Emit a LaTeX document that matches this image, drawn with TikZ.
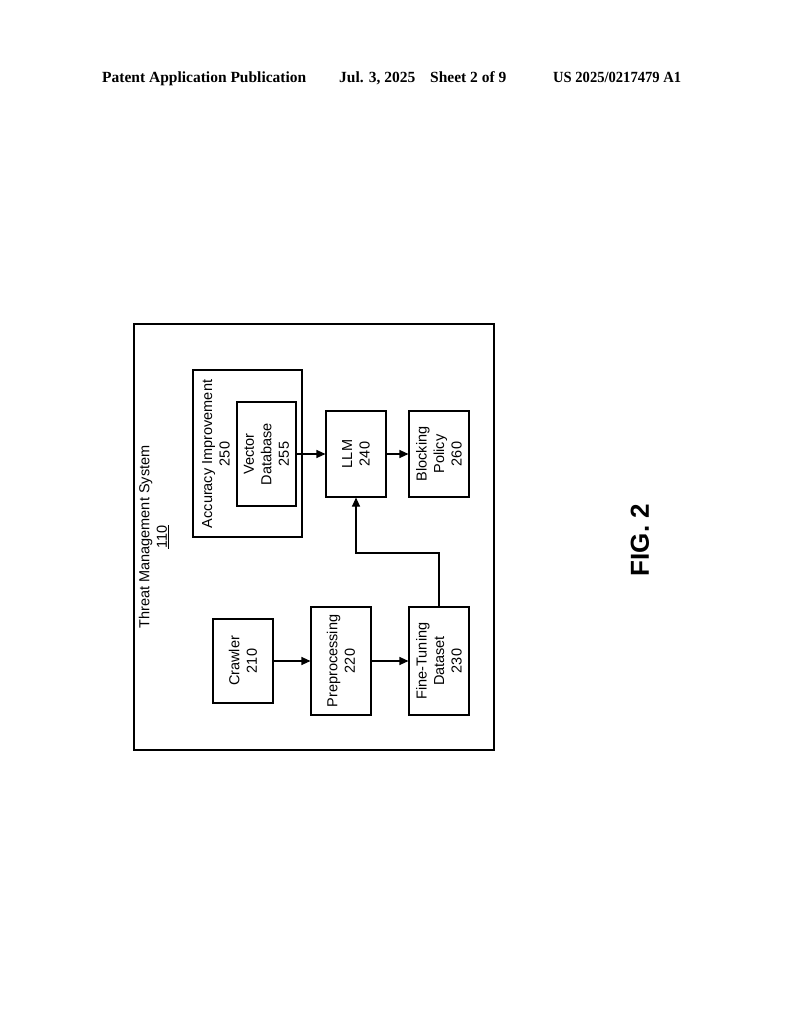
\documentclass[tikz,border=0pt]{standalone}
\usepackage{fontspec}
\setmainfont{Liberation Sans}
\newfontfamily\hdrfont{Liberation Serif}
\usetikzlibrary{arrows.meta}
\begin{document}
\begin{tikzpicture}[x=1pt,y=-1pt,
  lbl/.style={font=\fontsize{14.5}{17.5}\selectfont, align=center, inner sep=0pt},
  boxnode/.style={draw, line width=1.1pt, rotate=90, lbl},
  arr/.style={line width=1.1pt, -{Triangle[length=9pt,width=8pt]}},
  hdr/.style={font=\hdrfont\bfseries\fontsize{15.5}{18}\selectfont, anchor=base west, inner sep=0pt}]
\useasboundingbox (0,0) rectangle (794,1024);
% header
\node[hdr] (h1) at (102,83) {Patent Application Publication};
\node[hdr] (h2) at (339,83) {Jul. 3, 2025};
\node[hdr] (h3) at (430,83) {Sheet 2 of 9};
\node[hdr, xscale=0.94] (h4) at (553,83) {US 2025/0217479 A1};
% boxes
\node[boxnode, minimum width=426pt, minimum height=360pt] (outer) at (314,537) {};
\node[lbl, rotate=90] (title) at (154,537) {Threat Management System\\\underline{110}};
\node[boxnode, minimum width=167pt, minimum height=109pt] (acc) at (247.5,453.5) {};
\node[lbl, rotate=90] (acclbl) at (216,454) {Accuracy Improvement\\250};
\node[boxnode, minimum width=104pt, minimum height=59pt] (vdb) at (266.5,454) {Vector\\Database\\255};
\node[boxnode, minimum width=86pt, minimum height=60pt] (llm) at (356,454) {LLM\\240};
\node[boxnode, minimum width=86pt, minimum height=60pt] (blk) at (439,454) {Blocking\\Policy\\260};
\node[boxnode, minimum width=84pt, minimum height=60pt] (crw) at (243,661) {Crawler\\210};
\node[boxnode, minimum width=108pt, minimum height=60pt] (pre) at (341,661) {Preprocessing\\220};
\node[boxnode, minimum width=108pt, minimum height=60pt] (ft) at (439,661) {Fine-Tuning\\Dataset\\230};
\coordinate (bend) at (400,553);
% connectors
\draw[arr] (vdb) -- (llm);
\draw[arr] (llm) -- (blk);
\draw[arr] (crw) -- (pre);
\draw[arr] (pre) -- (ft);
\draw[arr] (ft) -- (ft |- bend) -- (llm |- bend) -- (llm);
% figure label
\node[rotate=90, font=\bfseries\fontsize{26}{30}\selectfont, inner sep=0pt] (fig) at (640,540) {FIG. 2};
\end{tikzpicture}
\end{document}
